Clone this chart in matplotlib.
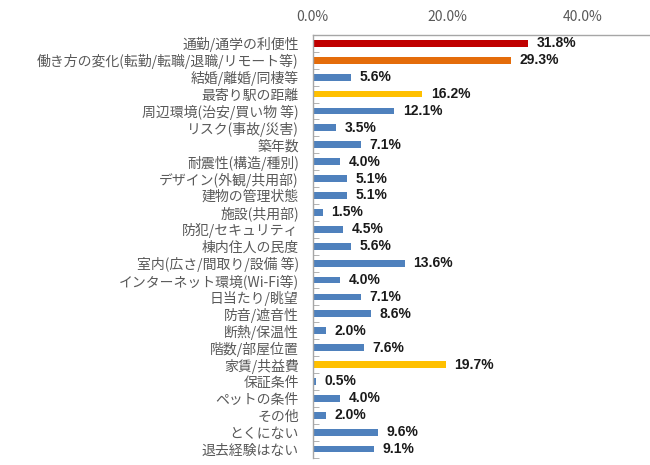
import numpy as np
import matplotlib
matplotlib.use("Agg")
import matplotlib.pyplot as plt
from matplotlib.ticker import FixedLocator, PercentFormatter

plt.rcParams['font.family'] = ['Noto Sans CJK JP', 'DejaVu Sans']

labels = [
    "通勤/通学の利便性",
    "働き方の変化(転勤/転職/退職/リモート等)",
    "結婚/離婚/同棲等",
    "最寄り駅の距離",
    "周辺環境(治安/買い物 等)",
    "リスク(事故/災害)",
    "築年数",
    "耐震性(構造/種別)",
    "デザイン(外観/共用部)",
    "建物の管理状態",
    "施設(共用部)",
    "防犯/セキュリティ",
    "棟内住人の民度",
    "室内(広さ/間取り/設備 等)",
    "インターネット環境(Wi-Fi等)",
    "日当たり/眺望",
    "防音/遮音性",
    "断熱/保温性",
    "階数/部屋位置",
    "家賃/共益費",
    "保証条件",
    "ペットの条件",
    "その他",
    "とくにない",
    "退去経験はない",
]
values = [31.8, 29.3, 5.6, 16.2, 12.1, 3.5, 7.1, 4.0, 5.1, 5.1, 1.5, 4.5, 5.6,
          13.6, 4.0, 7.1, 8.6, 2.0, 7.6, 19.7, 0.5, 4.0, 2.0, 9.6, 9.1]

blue = "#4F81BD"
colors = [blue] * len(values)
colors[0] = "#C00000"
colors[1] = "#E46C0A"
colors[3] = "#FFC000"
colors[19] = "#FFC000"

fig = plt.figure(figsize=(6.5, 4.65), dpi=100)
ax = fig.add_axes([0.481, 0.016, 0.52, 0.909])

y = np.arange(len(values))
ax.barh(y, values, height=0.4, color=colors)
ax.set_ylim(len(values) - 0.5, -0.5)
ax.set_xlim(0, 50)

for yi, v in zip(y, values):
    ax.text(v + 1.3, yi, f"{v:.1f}%", va="center", ha="left",
            fontsize=10, fontweight="bold", family="Liberation Sans", color="#1a1a1a")

ax.set_yticks(y)
ax.set_yticklabels(labels, fontsize=10, color="#595959")
ax.tick_params(axis="y", which="major", length=0, pad=10)
ax.yaxis.set_minor_locator(FixedLocator(np.arange(-0.5, len(values), 1.0)))
ax.tick_params(axis="y", which="minor", direction="in", length=4, color="#A6A6A6")

ax.xaxis.tick_top()
ax.set_xticks([0, 20, 40])
ax.xaxis.set_major_formatter(PercentFormatter(decimals=1))
ax.tick_params(axis="x", length=0, pad=8, labelsize=10, labelcolor="#595959")

for s in ["right", "bottom"]:
    ax.spines[s].set_visible(False)
for s in ["left", "top"]:
    ax.spines[s].set_color("#A6A6A6")
    ax.spines[s].set_linewidth(1)

fig.savefig("out.png", dpi=100)
